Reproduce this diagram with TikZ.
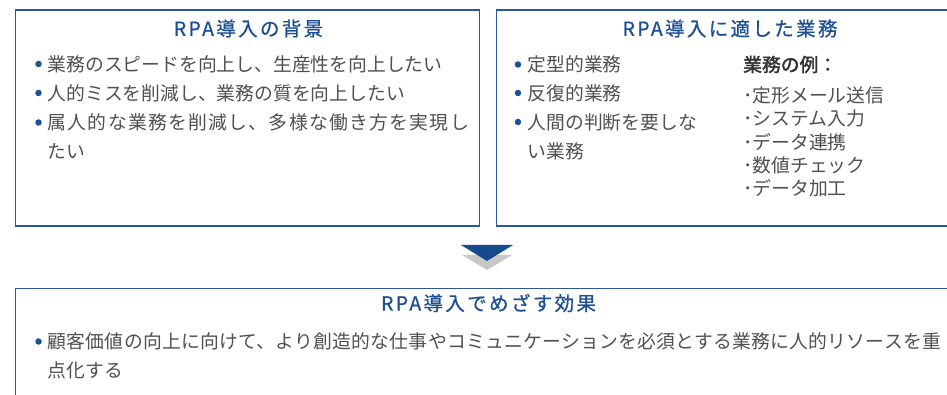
\documentclass[tikz,border=0pt]{standalone}
\usepackage{fontspec}
\setmainfont{Noto Sans CJK JP}
\newfontfamily\titlefont[LetterSpace=12,FakeBold=0.6]{Noto Sans CJK JP}
\newfontfamily\wideA[LetterSpace=7]{Noto Sans CJK JP}
\newfontfamily\wideB[LetterSpace=1.5]{Noto Sans CJK JP}
\newfontfamily\boldjp[FakeBold=2]{Noto Sans CJK JP}
\definecolor{framec}{HTML}{2A5896}
\definecolor{titlec}{HTML}{1B4E92}
\definecolor{textc}{HTML}{505050}
\definecolor{dotc}{HTML}{1E5296}
\definecolor{arrowblue}{HTML}{154A8C}
\definecolor{arrowgray}{HTML}{C8C8C8}
\begin{document}
\begin{tikzpicture}[x=1pt,y=-1pt,
  panel/.style={draw=framec, line width=1.3pt, fill=white, anchor=north west, inner sep=0},
  ttl/.style={font=\titlefont\fontsize{19.5}{19.5}\selectfont, text=titlec, inner sep=0},
  body/.style={font=\fontsize{18.8}{19}\selectfont, text=textc, inner sep=0, anchor=west},
  bullet/.style={circle, fill=dotc, inner sep=0, minimum size=6.5pt},
]
\useasboundingbox (0,0) rectangle (947,395);
\clip (0,0) rectangle (947,395);

% panels
\node[panel, minimum width=463.5pt, minimum height=216pt] (bg) at (15,9.5) {};
\node[panel, minimum width=465.5pt, minimum height=216pt] (fit) at (495.5,9.5) {};
\node[panel, minimum width=946pt, minimum height=130pt] (eff) at (15,287.5) {};

% titles
\node[ttl] (t1) at (248.5,28.5) {RPA導入の背景};
\node[ttl] (t2) at (730,28.5) {RPA導入に適した業務};
\node[ttl] (t3) at (488.5,303) {RPA導入でめざす効果};

% left panel
\node[bullet] (d1) at (38.5,64) {};
\node[body] (l1) at (47.5,64) {業務のスピードを向上し、生産性を向上したい};
\node[bullet] (d2) at (38.5,93) {};
\node[body] (l2) at (47.5,93) {人的ミスを削減し、業務の質を向上したい};
\node[bullet] (d3) at (38.5,122.5) {};
\node[body, font=\wideA\fontsize{18.8}{19}\selectfont] (l3) at (47.5,122.5) {属人的な業務を削減し、多様な働き方を実現し};
\node[body] (l4) at (47.5,151.5) {たい};

% right panel
\node[bullet] (d4) at (518,64.5) {};
\node[body] (r1) at (527.5,64.5) {定型的業務};
\node[bullet] (d5) at (518,93) {};
\node[body] (r2) at (527.5,93) {反復的業務};
\node[bullet] (d6) at (518,122) {};
\node[body] (r3) at (527.5,122) {人間の判断を要しな};
\node[body] (r4) at (527.5,151.5) {い業務};
\node[body, font=\boldjp\fontsize{18.8}{19}\selectfont, text=black!80] (ex) at (743,64.5) {業務の例：};
\node[body] (e1) at (743,95) {･定形メール送信};
\node[body] (e2) at (743,118.5) {･システム入力};
\node[body] (e3) at (743,142) {･データ連携};
\node[body] (e4) at (743,165) {･数値チェック};
\node[body] (e5) at (743,188.5) {･データ加工};

% bottom panel
\node[bullet] (d7) at (38.5,341.5) {};
\node[body, font=\wideB\fontsize{18.8}{19}\selectfont] (b1) at (47.5,341.5) {顧客価値の向上に向けて、より創造的な仕事やコミュニケーションを必須とする業務に人的リソースを重};
\node[body] (b2) at (47.5,370) {点化する};

% chevron arrow
\fill[arrowgray] (462,255) -- (512,255) -- (487,270) -- cycle;
\fill[arrowblue] (461,245) -- (513,245) -- (487,261) -- cycle;
\end{tikzpicture}
\end{document}
